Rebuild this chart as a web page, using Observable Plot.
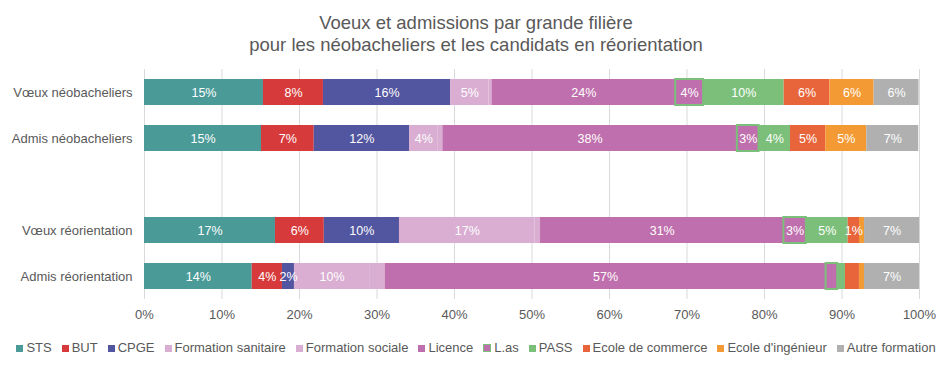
<!DOCTYPE html>
<html><head><meta charset="utf-8">
<script src="https://cdn.jsdelivr.net/npm/d3@7"></script>
<script src="https://cdn.jsdelivr.net/npm/@observablehq/plot@0.6"></script>
<style>
body{margin:0;background:#fff;font-family:"Liberation Sans",Arial,sans-serif;color:#595959;width:952px}
#title{height:60px;text-align:center;font-size:18.5px;line-height:22px;padding-top:12px;box-sizing:border-box}
#chart svg{display:block}
#legend{display:flex;justify-content:center;gap:10px;font-size:13px;line-height:14px;margin-top:10px}
#legend .it{display:flex;align-items:center;white-space:nowrap}
#legend .sw{width:7px;height:7px;margin-right:3px;box-sizing:border-box}
</style></head>
<body>
<div id="title">Voeux et admissions par grande filière<br>pour les néobacheliers et les candidats en réorientation</div>
<div id="chart"></div>
<div id="legend"></div>
<script>
const rows = ["Vœux néobacheliers","Admis néobacheliers","","Vœux réorientation","Admis réorientation"];
const categories = ["STS","BUT","CPGE","Formation sanitaire","Formation sociale","Licence","L.as","PASS","Ecole de commerce","Ecole d'ingénieur","Autre formation"];
const colors = ["#4a9a98","#d73a3a","#52559f","#d9aed2","#d9aed2","#bf6fad","#bf6fad","#7bbf7a","#e8653c","#f39a35","#b0b0b0"];
const lasBorder = "#7bbf7a";

const voeuxNeo   = [15.35, 7.74, 16.4, 4.95, 0.4, 23.7, 3.6, 10.4, 5.9, 5.7, 5.8];
const admisNeo   = [15.1, 6.8, 12.3, 3.7, 0.6, 38.0, 2.8, 4.05, 4.55, 5.3, 6.7];
const voeuxReo   = [16.9, 6.3, 9.7, 17.5, 0.7, 31.4, 2.9, 5.4, 1.46, 0.65, 7.1];
const admisReo   = [13.9, 3.9, 1.55, 9.7, 2.0, 56.9, 1.5, 1.0, 1.8, 0.65, 7.1];

const labelsVoeuxNeo = ["15%","8%","16%","5%","","24%","4%","10%","6%","6%","6%"];
const labelsAdmisNeo = ["15%","7%","12%","4%","","38%","3%","4%","5%","5%","7%"];
const labelsVoeuxReo = ["17%","6%","10%","17%","","31%","3%","5%","1%","","7%"];
const labelsAdmisReo = ["14%","4%","2%","10%","","57%","","","","","7%"];

const xTicks = [0,10,20,30,40,50,60,70,80,90,100];

const series = [
  [rows[0], voeuxNeo, labelsVoeuxNeo],
  [rows[1], admisNeo, labelsAdmisNeo],
  [rows[3], voeuxReo, labelsVoeuxReo],
  [rows[4], admisReo, labelsAdmisReo]
];
const table = [];
for (const [row, vals, labs] of series) {
  let acc = 0;
  vals.forEach((v, i) => {
    table.push({row, cat: categories[i], x1: acc, x2: acc + v, label: labs[i]});
    acc += v;
  });
}

const chart = Plot.plot({
  width: 952, height: 271,
  marginLeft: 144, marginRight: 33, marginTop: 9, marginBottom: 32,
  style: {fontFamily: "'Liberation Sans', Arial, sans-serif", fontSize: "13px", color: "#595959", background: "#fff"},
  x: {domain: [0, 100], ticks: xTicks, tickFormat: d => d + "%", label: null, tickSize: 0, tickPadding: 10},
  y: {domain: rows, paddingInner: 0.43, paddingOuter: 0.215, label: null, tickSize: 0, tickPadding: 12},
  color: {domain: categories, range: colors},
  marks: [
    Plot.ruleX(xTicks, {stroke: "#d9d9d9", strokeWidth: 1}),
    Plot.barX(table, {x1: "x1", x2: "x2", y: "row", fill: "cat"}),
    Plot.ruleX(table.filter(d => d.cat === "Formation sociale"), {x: "x1", y: "row", stroke: "white", strokeWidth: 1.5}),
    Plot.barX(table.filter(d => d.cat === "L.as"), {x1: "x1", x2: "x2", y: "row", fill: "none", stroke: lasBorder, strokeWidth: 2}),
    Plot.text(table.filter(d => d.label), {x: d => (d.x1 + d.x2) / 2, y: "row", text: "label", fill: "white", fontSize: 12.5})
  ]
});
document.getElementById("chart").appendChild(chart);

const legend = document.getElementById("legend");
categories.forEach((c, i) => {
  const it = document.createElement("div"); it.className = "it";
  const sw = document.createElement("span"); sw.className = "sw";
  sw.style.background = colors[i];
  if (c === "L.as") { sw.style.border = "1.5px solid " + lasBorder; sw.style.width = "8px"; sw.style.height = "8px"; }
  const t = document.createElement("span"); t.textContent = c;
  it.appendChild(sw); it.appendChild(t); legend.appendChild(it);
});
</script>
</body></html>
